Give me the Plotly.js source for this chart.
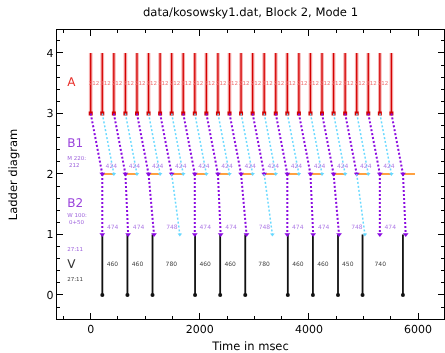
<!DOCTYPE html>
<html><head><meta charset="utf-8">
<script src="https://cdn.plot.ly/plotly-3.0.1.min.js"></script>
<style>html,body{margin:0;padding:0;background:#fff}#chart{width:445px;height:353px}
#chart svg{-webkit-font-smoothing:antialiased;will-change:transform}
#chart text{text-rendering:geometricPrecision}</style>
</head><body><div id="chart"></div>
<script>
// ---------------- data (ms) ----------------
const aTimes = [0,212,424,636,848,1060,1272,1484,1696,1908,2120,2332,2544,2756,2968,3180,3392,3604,3816,4028,4240,4452,4664,4876,5088,5300,5512];
const aLabels = ["212","212","212","212","212","212","212","212","212","212","212","212","212","212","212","212","212","212","212","212","212","212","212","212","212","212"];
// B1 level: arrival at bottom of B1 for each atrial beat, c = conducted, b = blocked
const b1Times = [212,424,636,848,1060,1272,1484,1696,1908,2120,2332,2544,2756,2968,3180,3392,3604,3816,4028,4240,4452,4664,4876,5088,5300,5512,5724];
const b1Status = ["c","b","c","b","c","b","c","b","c","b","c","b","c","b","c","b","c","b","c","b","c","b","c","b","c","b","c"];
const b1Refractory = 220;
const b1Labels = ["424","424","424","424","424","424","424","424","424","424","424","424","424"];
// B2 level
const b2Start = [212,636,1060,1484,1908,2332,2756,3180,3604,4028,4452,4876,5300,5724];
const b2End   = [212,686,1160,1634,1908,2382,2856,3330,3604,4078,4552,5026,5300,5774];
const b2Status = ["c","c","c","b","c","c","c","b","c","c","c","b","c","c"];
const b2Labels = ["474","474","748","474","474","748","474","474","748","474"];
// V level (measured)
const vTimes = [213,673,1133,1913,2373,2833,3613,4073,4533,4983,5723];
const vLabels = ["460","460","780","460","460","780","460","460","450","740"];
// level names
const levelNames = ["A","B1","B2","V"];
const levelY = [3.5,2.5,1.5,0.5];
const levelColors = ["#e8302a","#9b45dc","#9b45dc","#333333"];
const noteTexts = ["M 220:<br> 212","W 100:<br> 0+50","27:11","27:11"];
const noteY = [2.2,1.25,0.75,0.25];
const noteColors = ["#a066dd","#a066dd","#a066dd","#444444"];

// ---------------- build traces ----------------
const PX = 0.05455; // px per ms (only used for small label offsets)
const shift = -2.5 / PX;
function segs(x0s, y0, x1s, y1, filter){
  const x=[], y=[];
  for(let i=0;i<x0s.length;i++){ if(filter && !filter(i)) continue; x.push(x0s[i], x1s[i], null); y.push(y0, y1, null); }
  return {x, y};
}
function mids(arr){ const m=[]; for(let i=0;i<arr.length-1;i++) m.push((arr[i]+arr[i+1])/2 + shift); return m; }
const traces = [];
const PURPLE = "#8a0ae0", CYAN = "#66d8ff", ORANGE = "#ff8200";

// A lines
let s = segs(aTimes, 3, aTimes, 4);
traces.push({x:s.x, y:s.y, mode:"lines", line:{color:"rgba(235,70,70,0.45)", width:3.6}});
traces.push({x:s.x, y:s.y, mode:"lines", line:{color:"#d40000", width:1.3}});
traces.push({x:aTimes, y:aTimes.map(()=>3), mode:"markers", marker:{symbol:"square", size:4, color:"#d40000"}});
traces.push({x:mids(aTimes), y:aLabels.map(()=>3.5), mode:"text", text:aLabels, textfont:{size:5.5, color:"#f07070", family:"DejaVu Sans"}});

// B1 lines
s = segs(aTimes, 3, b1Times, 2, i=>b1Status[i]==="b");
traces.push({x:s.x, y:s.y, mode:"lines", line:{color:CYAN, width:1.5, dash:"2px,2px"}});
s = segs(aTimes, 3, b1Times, 2, i=>b1Status[i]==="c");
traces.push({x:s.x, y:s.y, mode:"lines", line:{color:PURPLE, width:2, dash:"2px,2px"}});
// refractory
const b1c = b1Times.filter((t,i)=>b1Status[i]==="c");
const b1b = b1Times.filter((t,i)=>b1Status[i]==="b");
s = segs(b1c, 2, b1c.map(t=>t+b1Refractory), 2);
traces.push({x:s.x, y:s.y, mode:"lines", line:{color:ORANGE, width:1.5}});
traces.push({x:b1b, y:b1b.map(()=>2), mode:"markers", marker:{symbol:"triangle-down", size:4, color:CYAN}});
traces.push({x:b1c, y:b1c.map(()=>2), mode:"markers", marker:{symbol:"triangle-down", size:5, color:PURPLE}});
traces.push({x:mids(b1c), y:b1Labels.map(()=>2.13), mode:"text", text:b1Labels, textfont:{size:6, color:"#b07ee6", family:"DejaVu Sans"}});

// B2 lines
s = segs(b2Start, 2, b2End, 1, i=>b2Status[i]==="b");
traces.push({x:s.x, y:s.y, mode:"lines", line:{color:CYAN, width:1.5, dash:"2px,2px"}});
s = segs(b2Start, 2, b2End, 1, i=>b2Status[i]==="c");
traces.push({x:s.x, y:s.y, mode:"lines", line:{color:PURPLE, width:2, dash:"2px,2px"}});

// V lines
s = segs(vTimes, 0, vTimes, 1);
traces.push({x:s.x, y:s.y, mode:"lines", line:{color:"#111", width:1.8}});
traces.push({x:vTimes, y:vTimes.map(()=>0), mode:"markers", marker:{symbol:"circle", size:4, color:"#111"}});
traces.push({x:mids(vTimes), y:vLabels.map(()=>0.5), mode:"text", text:vLabels, textfont:{size:6, color:"#444", family:"DejaVu Sans"}});

const b2b = b2End.filter((t,i)=>b2Status[i]==="b");
const b2c = b2End.filter((t,i)=>b2Status[i]==="c");
traces.push({x:b2b, y:b2b.map(()=>1), mode:"markers", marker:{symbol:"triangle-down", size:4, color:CYAN}});
traces.push({x:b2c, y:b2c.map(()=>1), mode:"markers", marker:{symbol:"triangle-down", size:5, color:PURPLE}});
traces.push({x:mids(b2c), y:b2Labels.map(()=>1.12), mode:"text", text:b2Labels, textfont:{size:6, color:"#b07ee6", family:"DejaVu Sans"}});

// level labels
const LX = -430;
levelNames.forEach((n,i)=>{
  traces.push({x:[LX], y:[levelY[i]], mode:"text", text:[n], textposition:"middle right", textfont:{size:12, color:levelColors[i], family:"DejaVu Sans"}});
});
noteTexts.forEach((n,i)=>{
  traces.push({x:[LX], y:[noteY[i]], mode:"text", text:[n], textposition:"middle right", textfont:{size:5.5, color:noteColors[i], family:"DejaVu Sans"}});
});

const layout = {
  width:445, height:353,
  margin:{l:57, r:1, t:30, b:34},
  paper_bgcolor:"#fff", plot_bgcolor:"#fff",
  showlegend:false,
  font:{family:"DejaVu Sans", color:"#000"},
  title:{text:"data/kosowsky1.dat, Block 2, Mode 1", font:{size:11.6, color:"#000"}, x:0.5, xref:"paper", y:0.966, yanchor:"middle"},
  xaxis:{range:[-618,6476], tick0:0, dtick:2000, ticks:"inside", ticklen:6, tickwidth:1, tickcolor:"#000",
    showline:true, linecolor:"#000", linewidth:1.2, mirror:"ticks", showgrid:false, zeroline:false,
    tickfont:{size:11}, title:{text:"Time in msec", font:{size:11.5}, standoff:8},
    minor:{dtick:500, tick0:0, ticks:"inside", ticklen:3, tickcolor:"#000", showgrid:false}},
  yaxis:{range:[-0.397,4.38], tick0:0, dtick:1, ticks:"inside", ticklen:6, tickwidth:1, tickcolor:"#000",
    showline:true, linecolor:"#000", linewidth:1.2, mirror:"ticks", showgrid:false, zeroline:false,
    tickfont:{size:11}, title:{text:"Ladder diagram", font:{size:11.5}, standoff:26},
    minor:{dtick:0.2, tick0:0, ticks:"inside", ticklen:3, tickcolor:"#000", showgrid:false}}
};
Plotly.newPlot("chart", traces, layout, {staticPlot:true, displayModeBar:false});
</script></body></html>
